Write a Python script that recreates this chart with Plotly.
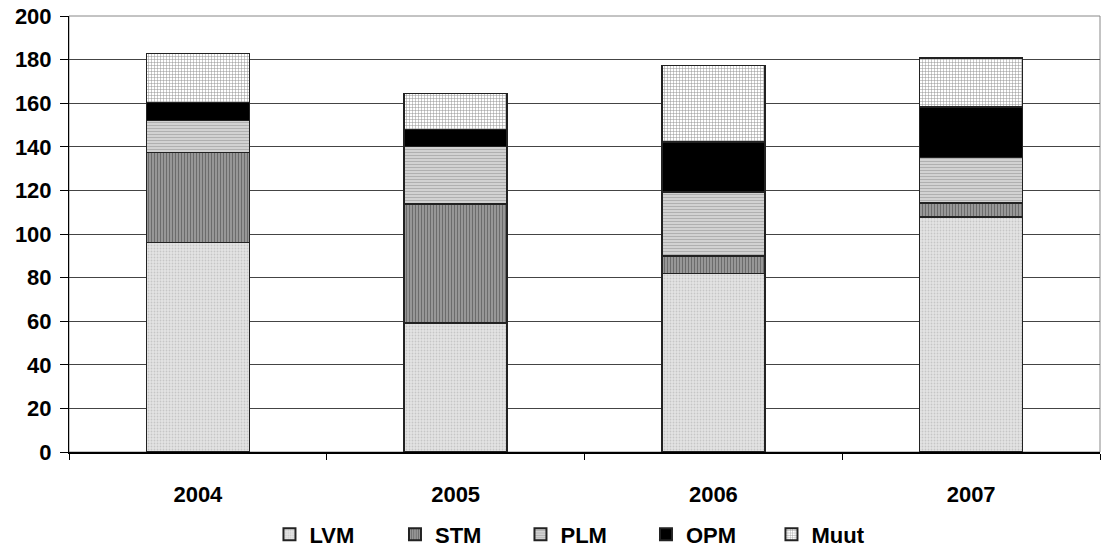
import plotly.graph_objects as go

years = ["2004", "2005", "2006", "2007"]
series_names = ["LVM", "STM", "PLM", "OPM", "Muut"]
lvm = [96.2, 59.2, 81.8, 107.8]
stm = [41.1, 54.6, 8.1, 6.4]
plm = [14.7, 26.4, 29.4, 20.8]
opm = [8.4, 7.7, 22.9, 23.3]
muut = [22.5, 16.5, 35.2, 22.4]
y_ticks = [0, 20, 40, 60, 80, 100, 120, 140, 160, 180, 200]

values = [lvm, stm, plm, opm, muut]
patterns = [
    dict(shape=".", fgcolor="#a8a8a8", bgcolor="#e4e4e4", size=3, solidity=0.3),
    dict(shape="|", fgcolor="#3c3c3c", bgcolor="#9c9c9c", size=3, solidity=0.4),
    dict(shape="-", fgcolor="#8a8a8a", bgcolor="#d6d6d6", size=3, solidity=0.4),
    None,
    dict(shape="+", fgcolor="#222222", bgcolor="#ffffff", size=3, solidity=0.3),
]
colors = ["#e4e4e4", "#9c9c9c", "#d6d6d6", "#000000", "#ffffff"]

FONT = "Liberation Sans, Arial, sans-serif"
FS = 22

fig = go.Figure()
for name, vals, pat, col in zip(series_names, values, patterns, colors):
    marker = dict(color=col, line=dict(color="#222222", width=1.5))
    if pat is not None:
        marker["pattern"] = pat
    fig.add_trace(go.Bar(x=years, y=vals, name=name, width=0.4, marker=marker))

fig.update_layout(
    barmode="stack",
    width=1102, height=547,
    margin=dict(l=69, r=2, t=16, b=95, autoexpand=False),
    plot_bgcolor="white", paper_bgcolor="white",
    font=dict(family=FONT, size=FS, color="black", weight="bold"),
    showlegend=True,
    legend=dict(
        orientation="h", x=0.499, xanchor="center", y=-0.189, yanchor="middle",
        font=dict(family=FONT, size=FS, color="black", weight="bold"),
        entrywidth=80.5, entrywidthmode="pixels", traceorder="normal",
        itemsizing="constant",
    ),
    shapes=[dict(type="rect", xref="paper", yref="paper", x0=0, x1=1, y0=0, y1=1,
                 line=dict(color="#888888", width=1), layer="below")],
)
fig.update_yaxes(
    range=[0, 200], tickvals=y_ticks, showgrid=True, gridcolor="#444444", gridwidth=1,
    showline=True, linecolor="black", linewidth=1, ticks="outside", ticklen=8,
    tickcolor="black", zeroline=False, ticklabelstandoff=4, automargin=False,
    tickfont=dict(family=FONT, size=FS, color="black", weight="bold"),
)
fig.update_xaxes(
    range=[-0.5, 3.5], showline=True, linecolor="black", linewidth=1.5,
    ticks="outside", tickson="boundaries", ticklen=6, tickcolor="black",
    showgrid=False, ticklabelstandoff=22, automargin=False,
    tickfont=dict(family=FONT, size=FS, color="black", weight="bold"),
)
fig.write_html("out.html")
